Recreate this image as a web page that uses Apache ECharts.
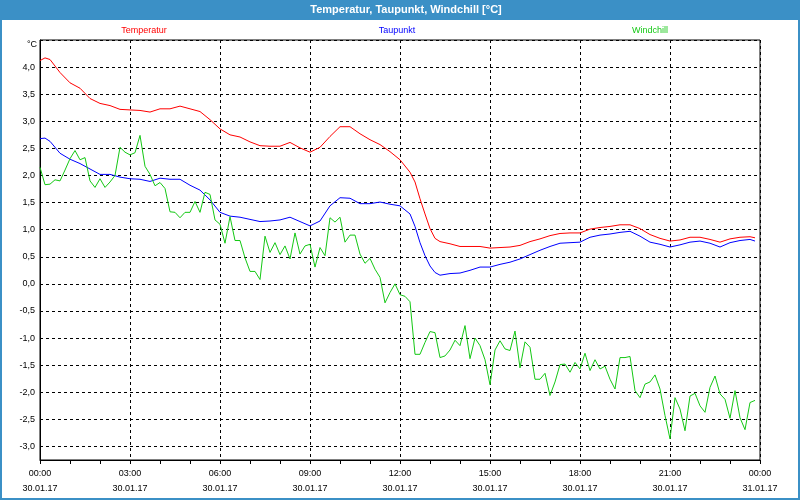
<!DOCTYPE html>
<html>
<head>
<meta charset="utf-8">
<title>Temperatur, Taupunkt, Windchill</title>
<script src="https://cdn.jsdelivr.net/npm/echarts@6/dist/echarts.min.js"></script>
<style>
  html, body { margin: 0; padding: 0; background: #fff; }
  #chart { width: 800px; height: 500px; }
</style>
</head>
<body>
<div id="chart"></div>
<script>
const seriesNames = ['Temperatur', 'Taupunkt', 'Windchill']
const seriesColors = ['#ff0000', '#0000ff', '#14c814']

// minutes since 30.01.17 00:00
const tempMinutes = [
  0, 10, 20, 40, 60, 80, 100, 120, 140, 160, 180, 200, 220, 240, 260, 280, 300, 320, 340, 360,
  380, 400, 420, 440, 460, 480, 500, 520, 540, 560, 580, 600, 620, 640, 660, 680, 700, 720, 740, 750,
  760, 770, 780, 790, 800, 820, 840, 860, 880, 900, 920, 940, 960, 980, 1000, 1020, 1040, 1060, 1080, 1100,
  1120, 1140, 1160, 1180, 1200, 1220, 1240, 1260, 1280, 1300, 1320, 1340, 1360, 1380, 1400, 1420, 1430
]
const temperatur = [
  4.12, 4.17, 4.14, 3.90, 3.71, 3.61, 3.42, 3.33, 3.29, 3.22, 3.21, 3.20, 3.17, 3.23, 3.23, 3.28, 3.23, 3.18, 3.03, 2.86,
  2.75, 2.71, 2.62, 2.55, 2.54, 2.54, 2.61, 2.51, 2.43, 2.52, 2.72, 2.90, 2.90, 2.77, 2.66, 2.57, 2.44, 2.29, 2.06, 1.88,
  1.57, 1.29, 1.02, 0.84, 0.78, 0.74, 0.69, 0.69, 0.69, 0.66, 0.67, 0.68, 0.71, 0.78, 0.83, 0.89, 0.93, 0.94, 0.94, 1.01,
  1.04, 1.06, 1.09, 1.09, 1.02, 0.91, 0.84, 0.79, 0.81, 0.86, 0.86, 0.82, 0.77, 0.83, 0.86, 0.87, 0.85
]
const taupunkt = [
  2.68, 2.69, 2.63, 2.41, 2.30, 2.22, 2.12, 2.02, 2.02, 1.97, 1.94, 1.93, 1.89, 1.95, 1.93, 1.93, 1.82, 1.73, 1.55, 1.32,
  1.25, 1.23, 1.19, 1.15, 1.16, 1.18, 1.23, 1.15, 1.07, 1.16, 1.44, 1.59, 1.58, 1.48, 1.48, 1.51, 1.47, 1.44, 1.29, 1.06,
  0.76, 0.52, 0.33, 0.21, 0.16, 0.19, 0.20, 0.25, 0.31, 0.31, 0.36, 0.40, 0.46, 0.54, 0.62, 0.69, 0.75, 0.76, 0.77, 0.86,
  0.90, 0.92, 0.95, 0.97, 0.88, 0.77, 0.73, 0.68, 0.72, 0.77, 0.79, 0.75, 0.68, 0.76, 0.80, 0.82, 0.79
]
// one value every 10 minutes from 00:00
const windchillStep = 10
const windchill = [
  2.15, 1.83, 1.84, 1.92, 1.90, 2.10, 2.31, 2.46, 2.29, 2.33, 1.90, 1.78, 1.94, 1.78, 1.88, 2.00, 2.52, 2.43, 2.38, 2.42,
  2.74, 2.17, 2.02, 1.81, 1.87, 1.76, 1.33, 1.32, 1.22, 1.32, 1.32, 1.52, 1.32, 1.69, 1.65, 1.18, 1.10, 0.75, 1.24, 0.80,
  0.80, 0.48, 0.23, 0.23, 0.08, 0.88, 0.58, 0.76, 0.54, 0.70, 0.46, 0.94, 0.55, 0.70, 0.73, 0.31, 0.67, 0.52, 1.22, 1.14,
  1.23, 0.77, 0.90, 0.90, 0.55, 0.38, 0.47, 0.27, 0.12, -0.35, -0.16, 0.00, -0.20, -0.23, -0.33, -1.30, -1.30, -1.08, -0.88, -0.90,
  -1.36, -1.33, -1.22, -1.04, -1.14, -0.77, -1.38, -1.00, -1.14, -1.40, -1.86, -1.22, -1.05, -1.20, -1.23, -0.87, -1.55, -1.07, -1.17, -1.76,
  -1.76, -1.65, -2.06, -1.81, -1.49, -1.48, -1.63, -1.45, -1.57, -1.28, -1.60, -1.40, -1.57, -1.52, -1.76, -1.94, -1.36, -1.36, -1.34, -1.97,
  -2.10, -1.85, -1.81, -1.68, -1.94, -2.43, -2.86, -2.10, -2.31, -2.71, -2.07, -2.02, -2.25, -2.37, -1.91, -1.70, -2.03, -2.13, -2.48, -1.97,
  -2.47, -2.69, -2.19, -2.15
]

const xTickLabels = [
  '00:00\n30.01.17', '03:00\n30.01.17', '06:00\n30.01.17', '09:00\n30.01.17', '12:00\n30.01.17',
  '15:00\n30.01.17', '18:00\n30.01.17', '21:00\n30.01.17', '00:00\n31.01.17'
]

const font = '"Liberation Sans", Arial, sans-serif'
const chart = echarts.init(document.getElementById('chart'))

const pairs = (minutes, values) => values.map((v, i) => [minutes[i] / 60, v])

const option = {
  animation: false,
  backgroundColor: '#ffffff',
  textStyle: { fontFamily: font },
  grid: {
    left: 40,
    right: 40,
    top: 40,
    bottom: 40,
    show: true,
    borderColor: '#000',
    borderWidth: 1,
    backgroundColor: 'transparent'
  },
  xAxis: {
    type: 'value',
    min: 0,
    max: 24,
    interval: 1,
    axisLine: { show: true, onZero: false, lineStyle: { color: '#000', width: 1 } },
    axisTick: { show: true, length: 4, lineStyle: { color: '#000' } },
    axisLabel: {
      margin: 6,
      color: '#000',
      fontSize: 9,
      lineHeight: 15,
      fontFamily: font,
      formatter: v => (v % 3 === 0 ? xTickLabels[v / 3] : '')
    },
    splitLine: {
      show: true,
      lineStyle: { color: ['#000', 'transparent', 'transparent'], type: [3, 3], width: 1 }
    }
  },
  yAxis: {
    type: 'value',
    min: -3.25,
    max: 4.5,
    interval: 0.25,
    axisLine: { show: true, onZero: false, lineStyle: { color: '#000', width: 1 } },
    axisTick: { show: false },
    axisLabel: {
      margin: 5,
      color: '#000',
      fontSize: 9,
      fontFamily: font,
      formatter: v => {
        if (v > 4.25 || Math.abs(v * 2 - Math.round(v * 2)) > 1e-6) return ''
        return v.toFixed(1).replace('.', ',')
      }
    },
    splitLine: {
      show: true,
      lineStyle: { color: ['transparent', '#000'], type: [3, 3], width: 1 }
    }
  },
  series: [
    {
      name: seriesNames[0],
      type: 'line',
      data: pairs(tempMinutes, temperatur),
      showSymbol: false,
      lineStyle: { color: seriesColors[0], width: 1 },
      itemStyle: { color: seriesColors[0] }
    },
    {
      name: seriesNames[1],
      type: 'line',
      data: pairs(tempMinutes, taupunkt),
      showSymbol: false,
      lineStyle: { color: seriesColors[1], width: 1 },
      itemStyle: { color: seriesColors[1] }
    },
    {
      name: seriesNames[2],
      type: 'line',
      data: windchill.map((v, i) => [i * windchillStep / 60, v]),
      showSymbol: false,
      lineStyle: { color: seriesColors[2], width: 1 },
      itemStyle: { color: seriesColors[2] }
    }
  ],
  graphic: [
    {
      type: 'rect',
      shape: { x: 0, y: 0, width: 800, height: 20 },
      style: { fill: '#3b90c6' },
      z: 10
    },
    {
      type: 'text',
      x: 406,
      y: 10,
      style: {
        text: 'Temperatur, Taupunkt, Windchill [°C]',
        fill: '#fff',
        font: 'bold 11px ' + font,
        textAlign: 'center',
        textVerticalAlign: 'middle'
      },
      z: 11
    },
    {
      type: 'rect',
      shape: { x: 1, y: 1, width: 798, height: 498 },
      style: { fill: 'none', stroke: '#3b90c6', lineWidth: 2 },
      z: 10
    },
    {
      type: 'text',
      x: 37,
      y: 45,
      style: {
        text: '°C',
        fill: '#000',
        font: '9px ' + font,
        textAlign: 'right',
        textVerticalAlign: 'middle'
      }
    },
    ...[144, 397, 650].map((cx, i) => ({
      type: 'text',
      x: cx,
      y: 31,
      style: {
        text: seriesNames[i],
        fill: seriesColors[i],
        font: '9px ' + font,
        textAlign: 'center',
        textVerticalAlign: 'middle'
      }
    }))
  ]
}

chart.setOption(option)
</script>
</body>
</html>
